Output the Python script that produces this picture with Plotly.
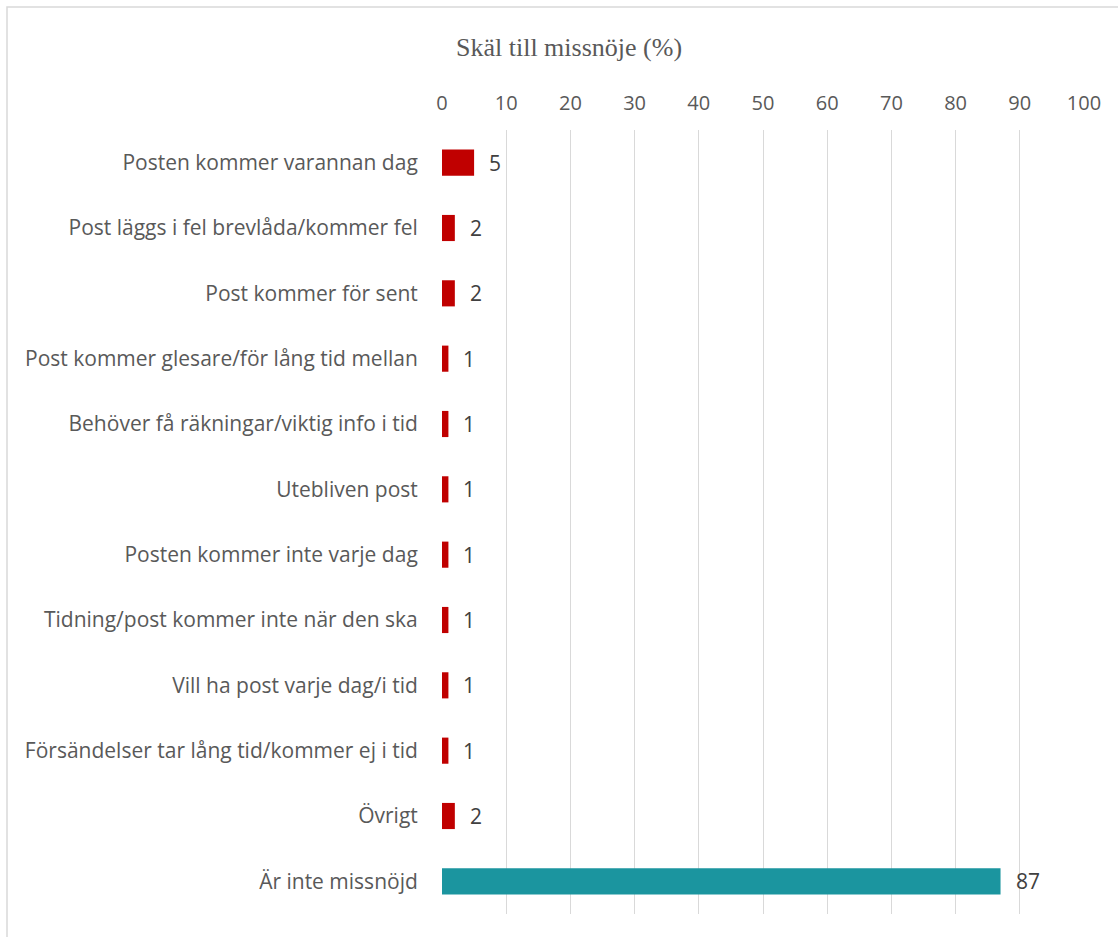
import plotly.graph_objects as go

categories = [
    "Posten kommer varannan dag",
    "Post läggs i fel brevlåda/kommer fel",
    "Post kommer för sent",
    "Post kommer glesare/för lång tid mellan",
    "Behöver få räkningar/viktig info i tid",
    "Utebliven post",
    "Posten kommer inte varje dag",
    "Tidning/post kommer inte när den ska",
    "Vill ha post varje dag/i tid",
    "Försändelser tar lång tid/kommer ej i tid",
    "Övrigt",
    "Är inte missnöjd",
]
values = [5, 2, 2, 1, 1, 1, 1, 1, 1, 1, 2, 87]
tick_values = [0, 10, 20, 30, 40, 50, 60, 70, 80, 90, 100]
chart_title = "Skäl till missnöje (%)"

RED = "#c00000"
TEAL = "#1b959f"
colors = [TEAL if c == "Är inte missnöjd" else RED for c in categories]

SANS = "Open Sans, sans-serif"
W, H = 1118, 937
L, R, T, B = 442, 34, 130, 23
pw, ph = W - L - R, H - T - B

fig = go.Figure(
    go.Bar(
        x=values,
        y=categories,
        orientation="h",
        marker=dict(color=colors, line=dict(width=0)),
        width=0.4,
        hoverinfo="x+y",
    )
)

# value labels just right of each bar
for c, v in zip(categories, values):
    fig.add_annotation(
        x=v, y=c, text=str(v), showarrow=False,
        xanchor="left", xshift=13,
        font=dict(family=SANS, size=21, color="#404040"),
    )

# chart title
fig.add_annotation(
    xref="paper", yref="paper", x=(569 - L) / pw, y=1 + (T - 47) / ph,
    text=chart_title, showarrow=False, xanchor="center", yanchor="middle",
    font=dict(family="Liberation Serif, serif", size=26, color="#595959"),
)

# outer chart frame
fig.add_shape(
    type="rect", xref="paper", yref="paper",
    x0=(7 - L) / pw, x1=(W + 5 - L) / pw,
    y0=-(H + 5 - T - ph) / ph, y1=1 + (T - 7) / ph,
    line=dict(color="#d9d9d9", width=1.5), fillcolor="rgba(0,0,0,0)", layer="below",
)

fig.update_layout(
    width=W, height=H,
    margin=dict(l=L, r=R, t=T, b=B, autoexpand=False),
    paper_bgcolor="white", plot_bgcolor="white",
    showlegend=False,
    bargap=0.6,
)
fig.update_xaxes(
    side="top", range=[0, 100], tickvals=tick_values,
    showgrid=True, gridcolor="#d9d9d9", gridwidth=1.3,
    zeroline=False, showline=False,
    ticks="outside", ticklen=11, tickcolor="rgba(0,0,0,0)",
    tickfont=dict(family=SANS, size=20, color="#595959"),
)
fig.update_yaxes(
    autorange="reversed", showgrid=False, zeroline=False, showline=False,
    ticks="outside", ticklen=19, tickcolor="rgba(0,0,0,0)",
    tickfont=dict(family=SANS, size=21, color="#595959"),
)

fig.write_html("out.html")
